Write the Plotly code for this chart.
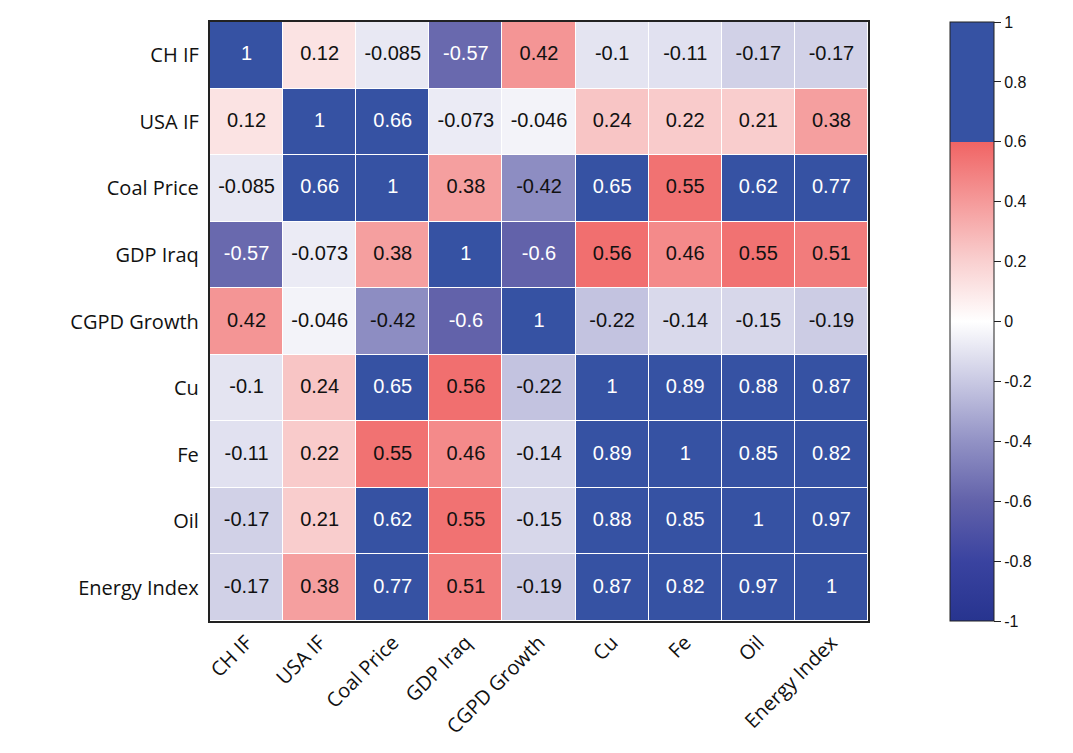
import plotly.graph_objects as go

labels = ["CH IF", "USA IF", "Coal Price", "GDP Iraq", "CGPD Growth",
          "Cu", "Fe", "Oil", "Energy Index"]

row_ch_if = [1, 0.12, -0.085, -0.57, 0.42, -0.1, -0.11, -0.17, -0.17]
row_usa_if = [0.12, 1, 0.66, -0.073, -0.046, 0.24, 0.22, 0.21, 0.38]
row_coal = [-0.085, 0.66, 1, 0.38, -0.42, 0.65, 0.55, 0.62, 0.77]
row_gdp_iraq = [-0.57, -0.073, 0.38, 1, -0.6, 0.56, 0.46, 0.55, 0.51]
row_cgpd = [0.42, -0.046, -0.42, -0.6, 1, -0.22, -0.14, -0.15, -0.19]
row_cu = [-0.1, 0.24, 0.65, 0.56, -0.22, 1, 0.89, 0.88, 0.87]
row_fe = [-0.11, 0.22, 0.55, 0.46, -0.14, 0.89, 1, 0.85, 0.82]
row_oil = [-0.17, 0.21, 0.62, 0.55, -0.15, 0.88, 0.85, 1, 0.97]
row_energy = [-0.17, 0.38, 0.77, 0.51, -0.19, 0.87, 0.82, 0.97, 1]

z = [row_ch_if, row_usa_if, row_coal, row_gdp_iraq, row_cgpd,
     row_cu, row_fe, row_oil, row_energy]

colorbar_ticks = [-1, -0.8, -0.6, -0.4, -0.2, 0, 0.2, 0.4, 0.6, 0.8, 1]

colorscale = [
    [0.0, "#27348f"],
    [0.1, "#3a43a0"],
    [0.2, "#6262aa"],
    [0.3, "#9292c5"],
    [0.4, "#c9c9e3"],
    [0.5, "#ffffff"],
    [0.6, "#f9d0d0"],
    [0.7, "#f59a9a"],
    [0.8, "#f06464"],
    [0.8, "#3652a3"],
    [1.0, "#3652a3"],
]

fig = go.Figure()
fig.add_trace(go.Heatmap(
    z=z, x=labels, y=labels, zmin=-1, zmax=1,
    colorscale=colorscale, xgap=1, ygap=1,
    colorbar=dict(
        x=1.109, xanchor="left", xref="paper",
        y=0.5, yanchor="middle", len=1.0, lenmode="fraction", ypad=0,
        thickness=44, outlinewidth=1, outlinecolor="#222",
        tickvals=colorbar_ticks, ticktext=[f"{t:g}" for t in colorbar_ticks],
        ticks="outside", ticklen=7, tickcolor="#222",
        tickfont=dict(family="Liberation Sans, Arial", size=16, color="#111"),
    ),
    hoverinfo="skip",
))

xs, ys, texts, colors = [], [], [], []
for i, row in enumerate(z):
    for j, v in enumerate(row):
        xs.append(labels[j])
        ys.append(labels[i])
        texts.append(f"{v:.2g}")
        colors.append("white" if (v > 0.6 or v <= -0.5) else "#111111")

fig.add_trace(go.Scatter(
    x=xs, y=ys, mode="text", text=texts,
    textfont=dict(family="Liberation Sans, Arial", size=20, color=colors),
    showlegend=False, hoverinfo="skip",
))

fig.update_layout(
    width=1073, height=753,
    margin=dict(l=202, r=213, t=14, b=140),
    paper_bgcolor="white", plot_bgcolor="white",
    showlegend=False,
)
fig.update_xaxes(
    tickangle=-45, tickfont=dict(family="Open Sans", size=20, color="#111"),
    showline=True, mirror=True, linecolor="#222", linewidth=2,
    showgrid=False, zeroline=False, ticks="",
)
fig.update_yaxes(
    autorange="reversed", tickfont=dict(family="Open Sans", size=20, color="#111"),
    showline=True, mirror=True, linecolor="#222", linewidth=2,
    showgrid=False, zeroline=False, ticks="", ticksuffix=" ",
)

fig.write_html("out.html")
